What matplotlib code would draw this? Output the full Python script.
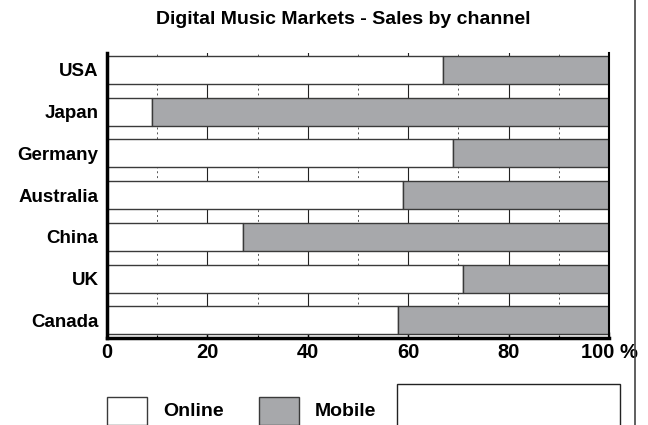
import matplotlib.pyplot as plt
from matplotlib.patches import Rectangle
from matplotlib.lines import Line2D

countries = ["USA", "Japan", "Germany", "Australia", "China", "UK", "Canada"]
online = [67, 9, 69, 59, 27, 71, 58]
mobile = [100 - v for v in online]
xticks = [0, 20, 40, 60, 80, 100]
xtick_labels = ["0", "20", "40", "60", "80", "100 %"]

plt.rcParams['font.family'] = ['Liberation Sans Narrow', 'Liberation Sans', 'DejaVu Sans']
plt.rcParams['font.weight'] = 'bold'

fig = plt.figure(figsize=(6.48, 4.25), dpi=100)
ax = fig.add_axes([0.165, 0.205, 0.775, 0.67])

gray = "#a7a8ab"
edge = "#3a3a3a"
pos = list(range(len(countries)))
h = 0.67

# grid behind bars
for x in [20, 40, 60, 80]:
    ax.axvline(x, color="#222222", lw=0.8, zorder=0)
for x in [10, 30, 50, 70, 90]:
    ax.axvline(x, color="#555555", lw=0.7, ls=(0, (2, 3)), zorder=0)

ax.barh(pos, online, height=h, color="white", edgecolor=edge, lw=1.0, zorder=2)
ax.barh(pos, mobile, left=online, height=h, color=gray, edgecolor=edge, lw=1.0, zorder=2)

ax.set_xlim(0, 100)
ax.set_ylim(6.42, -0.4)
ax.set_yticks(pos)
ax.set_yticklabels(countries, fontsize=13.5, fontweight="bold")
ax.set_xticks(xticks)
ax.set_xticklabels(xtick_labels, fontsize=14.5, fontweight="bold")
ax.set_xticks([10, 30, 50, 70, 90], minor=True)
ax.tick_params(axis="y", length=0, pad=6)
ax.tick_params(axis="x", which="major", direction="in", length=4, width=1, pad=4)
ax.tick_params(axis="x", which="minor", direction="in", length=2, width=0.8)

ax.spines["top"].set_visible(False)
ax.spines["left"].set_linewidth(2.5)
ax.spines["bottom"].set_linewidth(2.5)
ax.spines["right"].set_linewidth(1.5)

fig.text(0.53, 0.953, "Digital Music Markets - Sales by channel",
         ha="center", va="center", fontsize=14, fontweight="bold")

# legend drawn at the bottom
fig.patches.append(Rectangle((107 / 648, 0), 40 / 648, 28 / 425, transform=fig.transFigure,
                             facecolor="white", edgecolor=edge, lw=1.0))
fig.text(163 / 648, 1 - 411 / 425, "Online", fontsize=14, fontweight="bold", va="center")
fig.patches.append(Rectangle((259 / 648, 0), 40 / 648, 28 / 425, transform=fig.transFigure,
                             facecolor=gray, edgecolor=edge, lw=1.0))
fig.text(315 / 648, 1 - 411 / 425, "Mobile", fontsize=14, fontweight="bold", va="center")
fig.patches.append(Rectangle((397 / 648, -0.05), 223 / 648, 41 / 425 + 0.05, transform=fig.transFigure,
                             facecolor="white", edgecolor="#222222", lw=1.0))

# frame line on the right
fig.lines.append(Line2D([635 / 648, 635 / 648], [0, 1], transform=fig.transFigure,
                        color="#444444", lw=1.2))

fig.savefig("out.png", dpi=100)
